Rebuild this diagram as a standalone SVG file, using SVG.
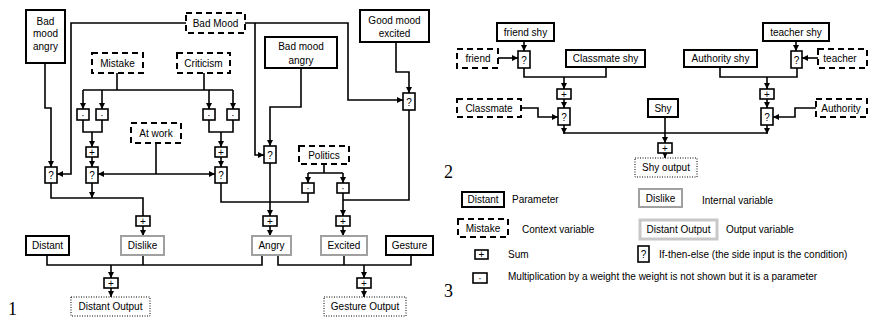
<svg xmlns="http://www.w3.org/2000/svg" width="869" height="320" viewBox="0 0 869 320">
<style>
text{font-family:"Liberation Sans",Arial,sans-serif;font-size:10px;fill:#000;text-anchor:middle}
.l{text-anchor:start}
.n{fill:#fff;stroke:#000;stroke-width:2}
.g{fill:#fff;stroke:#a0a0a0;stroke-width:2}
.lg{fill:#fff;stroke:#c8c8c8;stroke-width:3}
.d{fill:#fff;stroke:#000;stroke-width:2;stroke-dasharray:6,4}
.o{fill:#fff;stroke:#000;stroke-width:1;stroke-dasharray:1,1.5}
.op{fill:#fff;stroke:#000;stroke-width:1.6}
.big{font-family:"Liberation Serif","DejaVu Serif",serif;font-size:18px;text-anchor:start}
#connectors path{fill:none;stroke:#000;stroke-width:1.6}
</style>
<defs>
<marker id="a" markerUnits="userSpaceOnUse" markerWidth="6" markerHeight="6" refX="6" refY="3" orient="auto"><path d="M0,0 L6,3 L0,6 z" fill="#000"/></marker>
</defs>
<g id="connectors">
<path d="M45,63 V108 H51 V167" marker-end="url(#a)"/>
<path d="M186,23 H71 V174 H57" marker-end="url(#a)"/>
<path d="M245,23 H348 V100 H403" marker-end="url(#a)"/>
<path d="M255,23 V155 H264" marker-end="url(#a)"/>
<path d="M396,42 V72 H409 V93" marker-end="url(#a)"/>
<path d="M301,68 V107 H270 V146" marker-end="url(#a)"/>
<path d="M117,73 V90 M204,73 V90 M83,90 H233"/>
<path d="M83,90 V109" marker-end="url(#a)"/>
<path d="M102,90 V109" marker-end="url(#a)"/>
<path d="M209,90 V109" marker-end="url(#a)"/>
<path d="M233,90 V109" marker-end="url(#a)"/>
<path d="M83,120 V132 H102 V120 M209,120 V132 H233 V120"/>
<path d="M92,132 V147" marker-end="url(#a)"/>
<path d="M221,132 V147" marker-end="url(#a)"/>
<path d="M92,157 V167" marker-end="url(#a)"/>
<path d="M221,157 V167" marker-end="url(#a)"/>
<path d="M156,143 V174"/>
<path d="M156,174 H98" marker-end="url(#a)"/>
<path d="M156,174 H215" marker-end="url(#a)"/>
<path d="M51,183 V198 H143 V216 M92,183 V198" marker-end="url(#a)"/>
<path d="M143,226 V236" marker-end="url(#a)"/>
<path d="M221,183 V202 H308 V193"/>
<path d="M270,163 V216" marker-end="url(#a)"/>
<path d="M324,164 V173 M308,173 H343"/>
<path d="M308,173 V183" marker-end="url(#a)"/>
<path d="M343,173 V183" marker-end="url(#a)"/>
<path d="M409,110 V200 H343"/>
<path d="M343,193 V216" marker-end="url(#a)"/>
<path d="M270,226 V236" marker-end="url(#a)"/>
<path d="M343,226 V236" marker-end="url(#a)"/>
<path d="M47,255 V265 H262 V255 M143,255 V265"/>
<path d="M111,265 V278" marker-end="url(#a)"/>
<path d="M111,288 V297" marker-end="url(#a)"/>
<path d="M278,255 V265 H411 V255 M344,255 V265"/>
<path d="M364,265 V278" marker-end="url(#a)"/>
<path d="M364,288 V297" marker-end="url(#a)"/>
<path d="M524,41 V51" marker-end="url(#a)"/>
<path d="M498,58 H518" marker-end="url(#a)"/>
<path d="M524,68 V77 H606 V67"/>
<path d="M564,77 V89" marker-end="url(#a)"/>
<path d="M564,99 V108" marker-end="url(#a)"/>
<path d="M521,108 H538 V117 H558" marker-end="url(#a)"/>
<path d="M564,125 V134" marker-end="url(#a)"/>
<path d="M767,125 V134" marker-end="url(#a)"/>
<path d="M564,133 H767"/>
<path d="M665,117 V143" marker-end="url(#a)"/>
<path d="M665,153 V158" marker-end="url(#a)"/>
<path d="M796,41 V51" marker-end="url(#a)"/>
<path d="M818,58 H802" marker-end="url(#a)"/>
<path d="M720,67 V77 H797 V68"/>
<path d="M767,77 V89" marker-end="url(#a)"/>
<path d="M767,99 V108" marker-end="url(#a)"/>
<path d="M816,108 H795 V117 H773" marker-end="url(#a)"/>
</g>
<g id="badMoodAngry1"><rect class="n" x="26" y="10" width="39" height="53"/><text x="45.5" y="24.5">Bad</text><text x="45.5" y="37">mood</text><text x="45.5" y="50">angry</text></g>
<g id="badMood"><rect class="d" x="186" y="13" width="59" height="20"/><text x="215.5" y="27">Bad Mood</text></g>
<g id="mistake"><rect class="d" x="92" y="53" width="51" height="20"/><text x="117.5" y="67">Mistake</text></g>
<g id="criticism"><rect class="d" x="177" y="53" width="53" height="20"/><text x="203.5" y="67">Criticism</text></g>
<g id="badMoodAngry2"><rect class="n" x="265" y="37" width="72" height="31"/><text x="301" y="50">Bad mood</text><text x="301" y="63.5">angry</text></g>
<g id="goodMood"><rect class="n" x="360" y="10" width="69" height="32"/><text x="394.5" y="23.5">Good mood</text><text x="394.5" y="37">excited</text></g>
<g id="multL1"><rect class="op" x="77" y="109" width="12" height="11"/><text x="83" y="119">·</text></g>
<g id="multL2"><rect class="op" x="96" y="109" width="12" height="11"/><text x="102" y="119">·</text></g>
<g id="multR1"><rect class="op" x="203" y="109" width="12" height="11"/><text x="209" y="119">·</text></g>
<g id="multR2"><rect class="op" x="227" y="109" width="12" height="11"/><text x="233" y="119">·</text></g>
<g id="atWork"><rect class="d" x="131" y="123" width="50" height="20"/><text x="156" y="137">At work</text></g>
<g id="plusL"><rect class="op" x="86" y="147" width="12" height="10"/><text x="92" y="156">+</text></g>
<g id="plusR"><rect class="op" x="215" y="147" width="12" height="10"/><text x="221" y="156">+</text></g>
<g id="ifL0"><rect class="op" x="45" y="167" width="12" height="16"/><text x="51" y="179">?</text></g>
<g id="ifL1"><rect class="op" x="86" y="167" width="12" height="16"/><text x="92" y="179">?</text></g>
<g id="ifR"><rect class="op" x="215" y="167" width="12" height="16"/><text x="221" y="179">?</text></g>
<g id="ifAngry"><rect class="op" x="264" y="146" width="12" height="17"/><text x="270" y="158.5">?</text></g>
<g id="ifGood"><rect class="op" x="403" y="93" width="12" height="17"/><text x="409" y="105.5">?</text></g>
<g id="politics"><rect class="d" x="299" y="146" width="50" height="18"/><text x="324" y="159">Politics</text></g>
<g id="multP1"><rect class="op" x="302" y="183" width="12" height="10"/><text x="308" y="192">·</text></g>
<g id="multP2"><rect class="op" x="337" y="183" width="12" height="10"/><text x="343" y="192">·</text></g>
<g id="plusDislike"><rect class="op" x="136" y="216" width="14" height="10"/><text x="143" y="225">+</text></g>
<g id="plusAngry"><rect class="op" x="263" y="216" width="14" height="10"/><text x="270" y="225">+</text></g>
<g id="plusExcited"><rect class="op" x="336" y="216" width="14" height="10"/><text x="343" y="225">+</text></g>
<g id="distant"><rect class="n" x="26" y="236" width="43" height="19"/><text x="47.5" y="249">Distant</text></g>
<g id="dislike"><rect class="g" x="121" y="236" width="43" height="19"/><text x="142.5" y="249">Dislike</text></g>
<g id="angry"><rect class="g" x="252" y="236" width="39" height="19"/><text x="271.5" y="249">Angry</text></g>
<g id="excited"><rect class="g" x="321" y="236" width="46" height="19"/><text x="344" y="249">Excited</text></g>
<g id="gesture"><rect class="n" x="386" y="236" width="47" height="19"/><text x="409.5" y="249">Gesture</text></g>
<g id="plusDistOut"><rect class="op" x="104" y="278" width="14" height="10"/><text x="111" y="287">+</text></g>
<g id="plusGestOut"><rect class="op" x="357" y="278" width="14" height="10"/><text x="364" y="287">+</text></g>
<g id="distantOutput"><rect class="o" x="71" y="297" width="79" height="19"/><text x="110.5" y="310">Distant Output</text></g>
<g id="gestureOutput"><rect class="o" x="324" y="297" width="82" height="19"/><text x="365" y="310">Gesture Output</text></g>
<text class="big" x="8" y="315">1</text>
<g id="friendShy"><rect class="n" x="497" y="23" width="57" height="18"/><text x="525.5" y="35.5">friend shy</text></g>
<g id="friend"><rect class="d" x="457" y="49" width="41" height="19"/><text x="478" y="62">friend</text></g>
<g id="ifFriend"><rect class="op" x="518" y="51" width="12" height="17"/><text x="524" y="63.5">?</text></g>
<g id="classmateShy"><rect class="n" x="566" y="50" width="79" height="17"/><text x="605.5" y="62">Classmate shy</text></g>
<g id="plusC"><rect class="op" x="557" y="89" width="14" height="10"/><text x="564" y="98">+</text></g>
<g id="ifC"><rect class="op" x="558" y="108" width="12" height="17"/><text x="564" y="120.5">?</text></g>
<g id="classmate"><rect class="d" x="457" y="99" width="64" height="18"/><text x="489" y="112">Classmate</text></g>
<g id="shy"><rect class="n" x="648" y="99" width="30" height="18"/><text x="663" y="112">Shy</text></g>
<g id="plusShy"><rect class="op" x="658" y="143" width="14" height="10"/><text x="665" y="152">+</text></g>
<g id="shyOutput"><rect class="o" x="635" y="158" width="62" height="19"/><text x="666" y="171">Shy output</text></g>
<g id="teacherShy"><rect class="n" x="763" y="23" width="66" height="18"/><text x="796" y="35.5">teacher shy</text></g>
<g id="ifT"><rect class="op" x="791" y="51" width="11" height="17"/><text x="796.5" y="63.5">?</text></g>
<g id="teacher"><rect class="d" x="818" y="49" width="49" height="19"/><text x="840" y="62">teacher</text></g>
<g id="authorityShy"><rect class="n" x="684" y="50" width="73" height="17"/><text x="720.5" y="62">Authority shy</text></g>
<g id="plusA"><rect class="op" x="760" y="89" width="14" height="10"/><text x="767" y="98">+</text></g>
<g id="ifA"><rect class="op" x="761" y="108" width="12" height="17"/><text x="767" y="120.5">?</text></g>
<g id="authority"><rect class="d" x="816" y="99" width="51" height="18"/><text x="841" y="112">Authority</text></g>
<text class="big" x="444" y="178">2</text>
<g id="legend">
<rect class="n" x="462" y="192" width="42" height="15"/><text x="483" y="203">Distant</text><text class="l" x="512" y="203">Parameter</text>
<rect class="d" x="458" y="219" width="50" height="18"/><text x="483" y="232">Mistake</text><text class="l" x="522" y="233">Context variable</text>
<rect class="op" x="475" y="250" width="13" height="9"/><text x="481.5" y="258">+</text><text class="l" x="508" y="258">Sum</text>
<rect class="op" x="473" y="273" width="14" height="10"/><text x="480" y="282">·</text><text class="l" x="508" y="280">Multiplication by a weight the weight is not shown but it is a parameter</text>
<rect class="g" x="639" y="189" width="43" height="18"/><text x="660.5" y="202">Dislike</text><text class="l" x="702" y="204">Internal variable</text>
<rect class="lg" x="640" y="220" width="77" height="19"/><text x="678.5" y="233">Distant Output</text><text class="l" x="726" y="233">Output variable</text>
<rect class="op" x="638" y="246" width="11" height="16"/><text x="643.5" y="258">?</text><text class="l" x="659" y="258">If-then-else (the side input is the condition)</text>
</g>
<text class="big" x="444" y="297">3</text>
</svg>
